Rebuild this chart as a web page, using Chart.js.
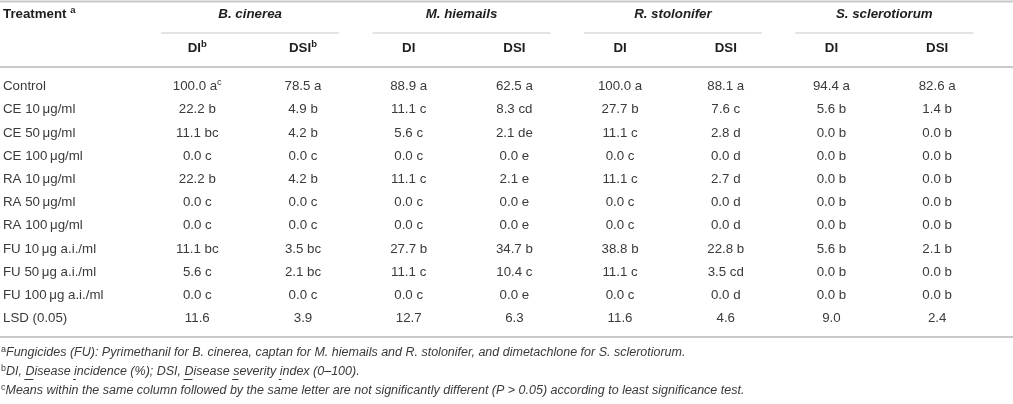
<!DOCTYPE html>
<html>
<head>
<meta charset="utf-8">
<script src="https://cdn.jsdelivr.net/npm/chart.js@4"></script>
<style>
  html, body { margin: 0; padding: 0; background: #fff; }
  #c { display: block; }
</style>
</head>
<body>
<canvas id="c" width="1013" height="404"></canvas>
<script>
// rows of the table
const treatments = ['Control', 'CE 10\u2009\u03bcg/ml', 'CE 50\u2009\u03bcg/ml', 'CE 100\u2009\u03bcg/ml',
  'RA 10\u2009\u03bcg/ml', 'RA 50\u2009\u03bcg/ml', 'RA 100\u2009\u03bcg/ml',
  'FU 10\u2009\u03bcg a.i./ml', 'FU 50\u2009\u03bcg a.i./ml', 'FU 100\u2009\u03bcg a.i./ml', 'LSD (0.05)'];
const species = ['B. cinerea', 'M. hiemails', 'R. stolonifer', 'S. sclerotiorum'];
const measures = ['DI', 'DSI'];

// values per column (last value = LSD row)
const bcDI  = [100.0, 22.2, 11.1, 0.0, 22.2, 0.0, 0.0, 11.1, 5.6, 0.0, 11.6];
const bcDSI = [78.5, 4.9, 4.2, 0.0, 4.2, 0.0, 0.0, 3.5, 2.1, 0.0, 3.9];
const mhDI  = [88.9, 11.1, 5.6, 0.0, 11.1, 0.0, 0.0, 27.7, 11.1, 0.0, 12.7];
const mhDSI = [62.5, 8.3, 2.1, 0.0, 2.1, 0.0, 0.0, 34.7, 10.4, 0.0, 6.3];
const rsDI  = [100.0, 27.7, 11.1, 0.0, 11.1, 0.0, 0.0, 38.8, 11.1, 0.0, 11.6];
const rsDSI = [88.1, 7.6, 2.8, 0.0, 2.7, 0.0, 0.0, 22.8, 3.5, 0.0, 4.6];
const ssDI  = [94.4, 5.6, 0.0, 0.0, 0.0, 0.0, 0.0, 5.6, 0.0, 0.0, 9.0];
const ssDSI = [82.6, 1.4, 0.0, 0.0, 0.0, 0.0, 0.0, 2.1, 0.0, 0.0, 2.4];

// significance letters per column
const bcDIg  = ['a', 'b', 'bc', 'c', 'b', 'c', 'c', 'bc', 'c', 'c', ''];
const bcDSIg = ['a', 'b', 'b', 'c', 'b', 'c', 'c', 'bc', 'bc', 'c', ''];
const mhDIg  = ['a', 'c', 'c', 'c', 'c', 'c', 'c', 'b', 'c', 'c', ''];
const mhDSIg = ['a', 'cd', 'de', 'e', 'e', 'e', 'e', 'b', 'c', 'e', ''];
const rsDIg  = ['a', 'b', 'c', 'c', 'c', 'c', 'c', 'b', 'c', 'c', ''];
const rsDSIg = ['a', 'c', 'd', 'd', 'd', 'd', 'd', 'b', 'cd', 'd', ''];
const ssDIg  = ['a', 'b', 'b', 'b', 'b', 'b', 'b', 'b', 'b', 'b', ''];
const ssDSIg = ['a', 'b', 'b', 'b', 'b', 'b', 'b', 'b', 'b', 'b', ''];

const footA = 'Fungicides (FU): Pyrimethanil for B. cinerea, captan for M. hiemails and R. stolonifer, and dimetachlone for S. sclerotiorum.';
const footB = 'DI, Disease incidence (%); DSI, Disease severity index (0\u2013100).';
const footC = 'Means within the same column followed by the same letter are not significantly different (P > 0.05) according to least significance test.';

const columns = [
  [bcDI, bcDIg], [bcDSI, bcDSIg], [mhDI, mhDIg], [mhDSI, mhDSIg],
  [rsDI, rsDIg], [rsDSI, rsDSIg], [ssDI, ssDIg], [ssDSI, ssDSIg]
];

const FONT = '"Liberation Sans", Arial, Helvetica, sans-serif';
const BODY = '#3a3a3a';
const HEAD = '#1e1e1e';
const RULE = '#c8c8c8';

// draw a run of text pieces, e.g. main text + superscript
function drawRich(ctx, parts, x, y, align) {
  let total = 0;
  parts.forEach(p => { ctx.font = p.font; p.w = ctx.measureText(p.t).width; total += p.w; });
  let cx = align === 'center' ? x - total / 2 : x;
  ctx.textAlign = 'left';
  ctx.textBaseline = 'middle';
  parts.forEach(p => {
    ctx.font = p.font;
    ctx.fillStyle = p.color;
    ctx.fillText(p.t, cx, y + (p.dy || 0));
    cx += p.w;
  });
}

function hline(ctx, x1, x2, y, w, color) {
  ctx.beginPath();
  ctx.strokeStyle = color;
  ctx.lineWidth = w;
  ctx.moveTo(x1, y);
  ctx.lineTo(x2, y);
  ctx.stroke();
}

const tablePlugin = {
  id: 'table',
  afterDatasetsDraw(chart) {
    const ctx = chart.ctx;
    const xs = chart.scales.x;
    const ys = chart.scales.y;
    const W = chart.width;
    ctx.save();

    // rules
    hline(ctx, 0, W, 1.5, 2, RULE);
    hline(ctx, 0, W, 67, 2, RULE);
    hline(ctx, 0, W, 337, 2, RULE);

    // header row 1
    const bold = 'bold 13.3px ' + FONT;
    const supB = 'bold 9.5px ' + FONT;
    drawRich(ctx, [{t: 'Treatment ', font: bold, color: HEAD}, {t: 'a', font: supB, color: HEAD, dy: -4}], 3, 14, 'left');
    species.forEach((s, i) => {
      const cx = (xs.getPixelForValue(2 * i) + xs.getPixelForValue(2 * i + 1)) / 2;
      drawRich(ctx, [{t: s, font: 'italic bold 13.3px ' + FONT, color: HEAD}], cx, 14, 'center');
      hline(ctx, cx - 89, cx + 89, 33, 1, RULE);
    });

    // header row 2
    columns.forEach((c, ci) => {
      const parts = [{t: measures[ci % 2], font: bold, color: HEAD}];
      if (ci < 2) parts.push({t: 'b', font: supB, color: HEAD, dy: -4});
      drawRich(ctx, parts, xs.getPixelForValue(ci), 48, 'center');
    });

    // row labels
    treatments.forEach((t, ri) => {
      drawRich(ctx, [{t: t, font: '13.3px ' + FONT, color: BODY}], 3, ys.getPixelForValue(ri), 'left');
    });

    // cells, placed at each point the library laid out
    chart.data.datasets.forEach((ds, ci) => {
      const meta = chart.getDatasetMeta(ci);
      meta.data.forEach((el, ri) => {
        const v = columns[ci][0][ri].toFixed(1);
        const g = columns[ci][1][ri];
        const parts = [{t: g ? v + ' ' + g : v, font: '13.3px ' + FONT, color: BODY}];
        if (ci === 0 && ri === 0) parts.push({t: 'c', font: '9.5px ' + FONT, color: BODY, dy: -4});
        drawRich(ctx, parts, el.x, el.y, 'center');
      });
    });

    // footnotes
    const it = 'italic 12.5px ' + FONT;
    const sup = '9px ' + FONT;
    drawRich(ctx, [{t: 'a', font: sup, color: BODY, dy: -3}, {t: footA, font: it, color: BODY}], 1, 353, 'left');
    drawRich(ctx, [{t: 'b', font: sup, color: BODY, dy: -3}, {t: footB, font: it, color: BODY}], 1, 372, 'left');
    drawRich(ctx, [{t: 'c', font: sup, color: BODY, dy: -3}, {t: footC, font: it, color: BODY}], 1, 391, 'left');

    // underlined initials in footnote b
    ctx.font = sup;
    const x0 = 1 + ctx.measureText('b').width;
    ctx.font = it;
    [['DI, ', 'D'], ['DI, Disease ', 'i'], ['DI, Disease incidence (%); DSI, ', 'D'],
     ['DI, Disease incidence (%); DSI, Disease ', 's'], ['DI, Disease incidence (%); DSI, Disease severity ', 'i']]
      .forEach(([pre, ch]) => {
        const a = x0 + ctx.measureText(pre).width;
        const b = a + ctx.measureText(ch).width;
        hline(ctx, a - 1, b - 1, 379.5, 1, BODY);
      });

    ctx.restore();
  }
};

new Chart(document.getElementById('c'), {
  type: 'scatter',
  data: {
    datasets: columns.map((c, ci) => ({
      label: species[Math.floor(ci / 2)] + ' ' + measures[ci % 2],
      data: c[0].map((v, ri) => ({x: ci, y: treatments[ri]})),
      pointRadius: 0,
      pointHoverRadius: 0
    }))
  },
  options: {
    responsive: false,
    animation: false,
    events: [],
    layout: {padding: {top: 75, bottom: 74, left: 0, right: 0}},
    plugins: {legend: {display: false}, tooltip: {enabled: false}},
    scales: {
      x: {type: 'linear', min: -1.8668, max: 7.7178, display: false},
      y: {type: 'category', labels: treatments, offset: true, display: false}
    }
  },
  plugins: [tablePlugin]
});
</script>
</body>
</html>
